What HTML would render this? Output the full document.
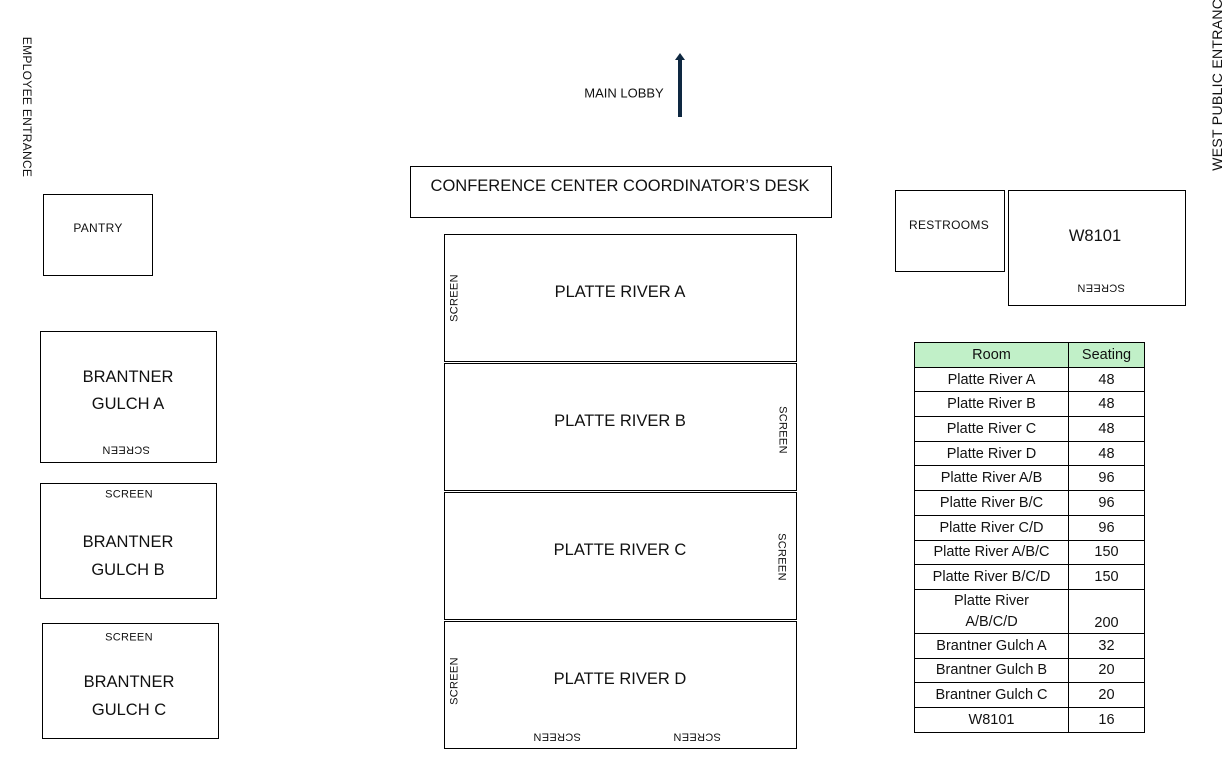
<!DOCTYPE html>
<html><head><meta charset="utf-8"><style>
body{margin:0;width:1222px;height:771px;background:#fff;position:relative;overflow:hidden;font-family:"Liberation Sans",sans-serif;color:#111}
.b{position:absolute;border:1px solid #000;box-sizing:border-box}
.t{position:absolute;white-space:nowrap;transform:translate(-50%,-50%);line-height:1}
.s{font-size:11px;letter-spacing:0.3px}
.L{font-size:16.5px}
.up{transform:translate(-50%,-50%) rotate(-90deg)}
.dn{transform:translate(-50%,-50%) rotate(90deg)}
.fl{transform:translate(-50%,-50%) rotate(180deg)}
table{position:absolute;left:914px;top:342px;border-collapse:collapse;font-size:14.5px;font-family:"Liberation Sans",sans-serif}
td{border:1px solid #000;text-align:center;padding:1px 0 0 0;height:22.7px;line-height:17px}
</style></head><body>
<div class="t s dn" style="left:27px;top:107px;font-size:12px">EMPLOYEE ENTRANCE</div>
<div class="t s up" style="left:1217px;top:80px;font-size:14px">WEST PUBLIC ENTRANCE</div>
<div class="t" style="left:624px;top:93px;font-size:13px">MAIN LOBBY</div>
<svg style="position:absolute;left:670px;top:50px" width="20" height="70"><line x1="10" y1="67" x2="10" y2="10" stroke="#0e2841" stroke-width="4"/><polygon points="5,10 15,10 10,3" fill="#0e2841"/></svg>

<div class="b" style="left:43px;top:194px;width:110px;height:82px"></div>
<div class="t s" style="left:98px;top:228px;font-size:12px">PANTRY</div>

<div class="b" style="left:40px;top:331px;width:177px;height:132px"></div>
<div class="t L" style="left:128px;top:377px">BRANTNER</div>
<div class="t L" style="left:128px;top:404px">GULCH A</div>
<div class="t s fl" style="left:126px;top:449px">SCREEN</div>

<div class="b" style="left:40px;top:483px;width:177px;height:116px"></div>
<div class="t s" style="left:129px;top:495px">SCREEN</div>
<div class="t L" style="left:128px;top:542px">BRANTNER</div>
<div class="t L" style="left:128px;top:570px">GULCH B</div>

<div class="b" style="left:42px;top:623px;width:177px;height:116px"></div>
<div class="t s" style="left:129px;top:638px">SCREEN</div>
<div class="t L" style="left:129px;top:682px">BRANTNER</div>
<div class="t L" style="left:129px;top:710px">GULCH C</div>

<div class="b" style="left:410px;top:166px;width:422px;height:52px"></div>
<div class="t L" style="left:620px;top:186px">CONFERENCE CENTER COORDINATOR’S DESK</div>

<div class="b" style="left:444px;top:234px;width:353px;height:128px"></div>
<div class="t L" style="left:620px;top:292px">PLATTE RIVER A</div>
<div class="t s up" style="left:455px;top:298px">SCREEN</div>

<div class="b" style="left:444px;top:363px;width:353px;height:128px"></div>
<div class="t L" style="left:620px;top:421px">PLATTE RIVER B</div>
<div class="t s dn" style="left:782px;top:430px">SCREEN</div>

<div class="b" style="left:444px;top:492px;width:353px;height:128px"></div>
<div class="t L" style="left:620px;top:550px">PLATTE RIVER C</div>
<div class="t s dn" style="left:781px;top:557px">SCREEN</div>

<div class="b" style="left:444px;top:621px;width:353px;height:128px"></div>
<div class="t L" style="left:620px;top:679px">PLATTE RIVER D</div>
<div class="t s up" style="left:455px;top:681px">SCREEN</div>
<div class="t s fl" style="left:557px;top:736px">SCREEN</div>
<div class="t s fl" style="left:697px;top:736px">SCREEN</div>

<div class="b" style="left:895px;top:190px;width:110px;height:82px"></div>
<div class="t s" style="left:949px;top:225px;font-size:12px">RESTROOMS</div>

<div class="b" style="left:1008px;top:190px;width:178px;height:116px"></div>
<div class="t L" style="left:1095px;top:236px">W8101</div>
<div class="t s fl" style="left:1101px;top:287px">SCREEN</div>

<table>
<tr><td style="width:153px;background:#c1f0c8">Room</td><td style="width:75px;background:#c1f0c8">Seating</td></tr>
<tr><td>Platte River A</td><td>48</td></tr>
<tr><td>Platte River B</td><td>48</td></tr>
<tr><td>Platte River C</td><td>48</td></tr>
<tr><td>Platte River D</td><td>48</td></tr>
<tr><td>Platte River A/B</td><td>96</td></tr>
<tr><td>Platte River B/C</td><td>96</td></tr>
<tr><td>Platte River C/D</td><td>96</td></tr>
<tr><td>Platte River A/B/C</td><td>150</td></tr>
<tr><td>Platte River B/C/D</td><td>150</td></tr>
<tr><td style="height:40px;line-height:21px">Platte River<br>A/B/C/D</td><td style="vertical-align:bottom;line-height:20px">200</td></tr>
<tr><td>Brantner Gulch A</td><td>32</td></tr>
<tr><td>Brantner Gulch B</td><td>20</td></tr>
<tr><td>Brantner Gulch C</td><td>20</td></tr>
<tr><td>W8101</td><td>16</td></tr>
</table>
</body></html>
